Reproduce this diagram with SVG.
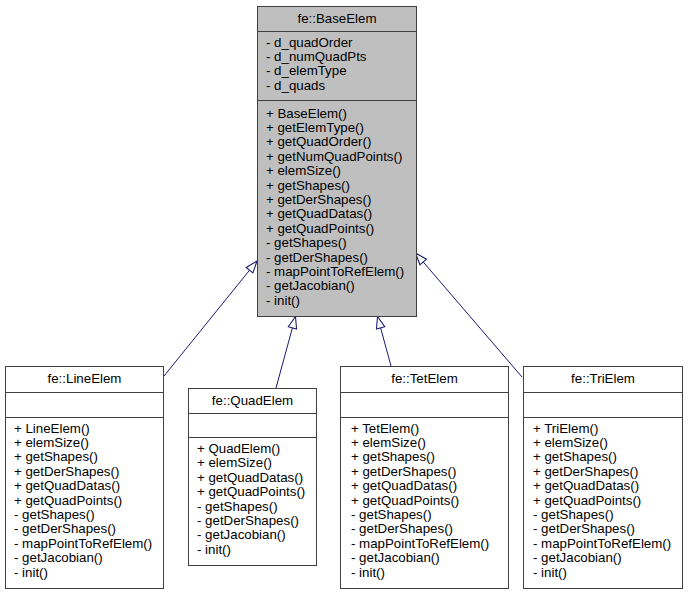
<svg xmlns="http://www.w3.org/2000/svg" width="688" height="595" viewBox="0 0 688 595">
<style>
.box{fill:#ffffff;stroke:#404040;stroke-width:1}
.base{fill:#bfbfbf;stroke:#404040;stroke-width:1}
.div{stroke:#404040;stroke-width:1}
text{font-family:"Liberation Sans",Arial,sans-serif;font-size:13.3px;fill:#000}
.t{text-anchor:middle}
.edge{fill:none;stroke:#191970;stroke-width:1}
</style>
<defs>
<marker id="inh" markerUnits="userSpaceOnUse" markerWidth="14" markerHeight="12" viewBox="-1 -1 13 10" refX="11" refY="4" orient="auto">
<path d="M0,0 L11,4 L0,8 Z" fill="#ffffff" stroke="#191970" stroke-width="1"/>
</marker>
</defs>
<rect width="688" height="595" fill="#ffffff"/>
<g id="edges">
<path class="edge" d="M164,376 L257,261" marker-end="url(#inh)"/>
<path class="edge" d="M276,388 L295.5,316.5" marker-end="url(#inh)"/>
<path class="edge" d="M391,366 L377.5,316.5" marker-end="url(#inh)"/>
<path class="edge" d="M522,377 L415.5,253" marker-end="url(#inh)"/>
</g>
<g id="BaseElem">
<rect class="base" x="257.5" y="6.5" width="159" height="310"/>
<line class="div" x1="257.5" y1="31.5" x2="416.5" y2="31.5"/>
<line class="div" x1="257.5" y1="100.5" x2="416.5" y2="100.5"/>
<text class="t" x="337" y="22.5">fe::BaseElem</text>
<text x="266" y="46.5">- d_quadOrder</text>
<text x="266" y="60.9">- d_numQuadPts</text>
<text x="266" y="75.3">- d_elemType</text>
<text x="266" y="89.7">- d_quads</text>
<text x="266" y="117.5">+ BaseElem()</text>
<text x="266" y="131.9">+ getElemType()</text>
<text x="266" y="146.3">+ getQuadOrder()</text>
<text x="266" y="160.7">+ getNumQuadPoints()</text>
<text x="266" y="175.1">+ elemSize()</text>
<text x="266" y="189.5">+ getShapes()</text>
<text x="266" y="203.9">+ getDerShapes()</text>
<text x="266" y="218.3">+ getQuadDatas()</text>
<text x="266" y="232.7">+ getQuadPoints()</text>
<text x="266" y="247.1">- getShapes()</text>
<text x="266" y="261.5">- getDerShapes()</text>
<text x="266" y="275.9">- mapPointToRefElem()</text>
<text x="266" y="290.3">- getJacobian()</text>
<text x="266" y="304.7">- init()</text>
</g>
<g id="LineElem">
<rect class="box" x="5.5" y="366.5" width="158" height="222"/>
<line class="div" x1="5.5" y1="392.5" x2="163.5" y2="392.5"/>
<line class="div" x1="5.5" y1="417.5" x2="163.5" y2="417.5"/>
<text class="t" x="84.5" y="382.5">fe::LineElem</text>
<text x="14" y="432.5">+ LineElem()</text>
<text x="14" y="446.9">+ elemSize()</text>
<text x="14" y="461.3">+ getShapes()</text>
<text x="14" y="475.7">+ getDerShapes()</text>
<text x="14" y="490.1">+ getQuadDatas()</text>
<text x="14" y="504.5">+ getQuadPoints()</text>
<text x="14" y="518.9">- getShapes()</text>
<text x="14" y="533.3">- getDerShapes()</text>
<text x="14" y="547.7">- mapPointToRefElem()</text>
<text x="14" y="562.1">- getJacobian()</text>
<text x="14" y="576.5">- init()</text>
</g>
<g id="QuadElem">
<rect class="box" x="188.5" y="388.5" width="128" height="177"/>
<line class="div" x1="188.5" y1="413.5" x2="316.5" y2="413.5"/>
<line class="div" x1="188.5" y1="437.5" x2="316.5" y2="437.5"/>
<text class="t" x="252.5" y="404.5">fe::QuadElem</text>
<text x="197" y="453">+ QuadElem()</text>
<text x="197" y="467.4">+ elemSize()</text>
<text x="197" y="481.8">+ getQuadDatas()</text>
<text x="197" y="496.2">+ getQuadPoints()</text>
<text x="197" y="510.6">- getShapes()</text>
<text x="197" y="525">- getDerShapes()</text>
<text x="197" y="539.4">- getJacobian()</text>
<text x="197" y="553.8">- init()</text>
</g>
<g id="TetElem">
<rect class="box" x="340.5" y="366.5" width="168" height="222"/>
<line class="div" x1="340.5" y1="392.5" x2="508.5" y2="392.5"/>
<line class="div" x1="340.5" y1="417.5" x2="508.5" y2="417.5"/>
<text class="t" x="424.5" y="382.5">fe::TetElem</text>
<text x="351" y="432.5">+ TetElem()</text>
<text x="351" y="446.9">+ elemSize()</text>
<text x="351" y="461.3">+ getShapes()</text>
<text x="351" y="475.7">+ getDerShapes()</text>
<text x="351" y="490.1">+ getQuadDatas()</text>
<text x="351" y="504.5">+ getQuadPoints()</text>
<text x="351" y="518.9">- getShapes()</text>
<text x="351" y="533.3">- getDerShapes()</text>
<text x="351" y="547.7">- mapPointToRefElem()</text>
<text x="351" y="562.1">- getJacobian()</text>
<text x="351" y="576.5">- init()</text>
</g>
<g id="TriElem">
<rect class="box" x="523.5" y="366.5" width="159" height="222"/>
<line class="div" x1="523.5" y1="392.5" x2="682.5" y2="392.5"/>
<line class="div" x1="523.5" y1="417.5" x2="682.5" y2="417.5"/>
<text class="t" x="603" y="382.5">fe::TriElem</text>
<text x="533" y="432.5">+ TriElem()</text>
<text x="533" y="446.9">+ elemSize()</text>
<text x="533" y="461.3">+ getShapes()</text>
<text x="533" y="475.7">+ getDerShapes()</text>
<text x="533" y="490.1">+ getQuadDatas()</text>
<text x="533" y="504.5">+ getQuadPoints()</text>
<text x="533" y="518.9">- getShapes()</text>
<text x="533" y="533.3">- getDerShapes()</text>
<text x="533" y="547.7">- mapPointToRefElem()</text>
<text x="533" y="562.1">- getJacobian()</text>
<text x="533" y="576.5">- init()</text>
</g>
</svg>
